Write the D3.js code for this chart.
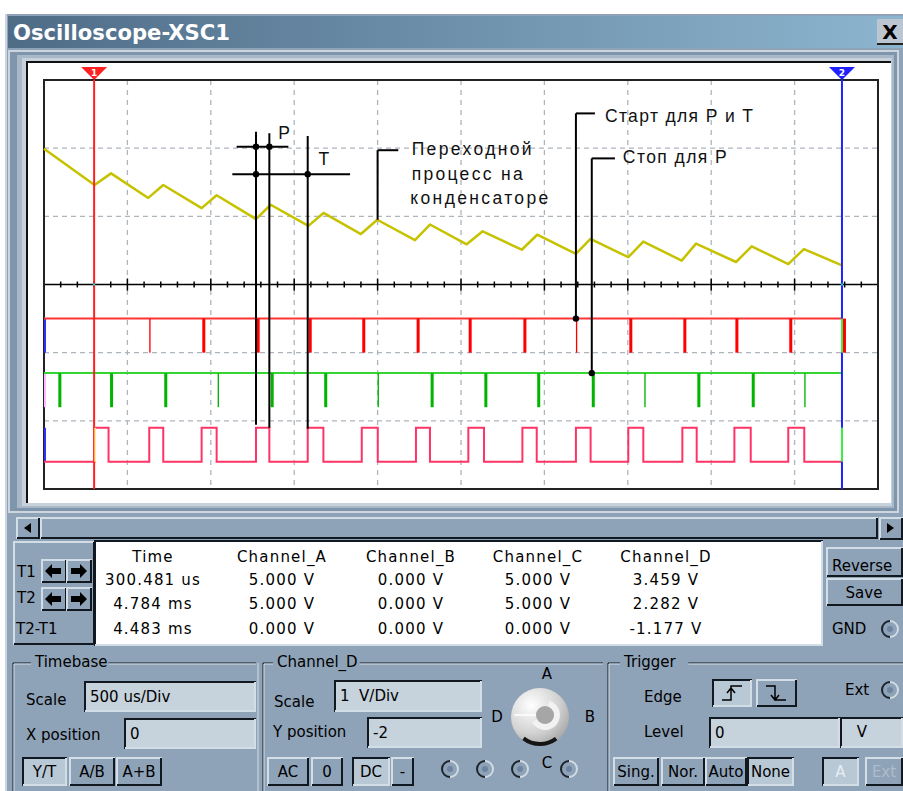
<!DOCTYPE html>
<html>
<head>
<meta charset="utf-8">
<script src="https://cdn.jsdelivr.net/npm/d3@7"></script>
<style>
  body { margin: 0; background: #fff; }
  svg text { font-family: "DejaVu Sans", sans-serif; font-size: 15px; white-space: pre; }
</style>
</head>
<body>
<svg id="scope" width="903" height="791"></svg>
<script>
// ---- data (time in ms, volts) ----
// channel D: capacitor voltage (sawtooth)
const capTime = [0, 0.303, 0.402, 0.625, 0.715, 0.945, 1.035, 1.271, 1.359, 1.585, 1.676, 1.900, 1.998, 2.224, 2.314,
  2.534, 2.630, 2.864, 2.957, 3.189, 3.276, 3.503, 3.593, 3.823, 3.909, 4.149, 4.243, 4.462, 4.556, 4.784];
const capVolt = [3.99, 3.46, 3.63, 3.27, 3.46, 3.12, 3.31, 2.96, 3.17, 2.86, 3.05, 2.74, 2.95, 2.65, 2.88,
  2.59, 2.78, 2.51, 2.73, 2.45, 2.67, 2.40, 2.63, 2.35, 2.60, 2.33, 2.56, 2.30, 2.52, 2.28];

// channel C: gate square wave (0 V / 5 V)
const gateOn  = [0.303, 0.631, 0.945, 1.271, 1.581, 1.905, 2.230, 2.544, 2.868, 3.189, 3.503, 3.827, 4.139, 4.462];
const gateOff = [0.387, 0.715, 1.035, 1.351, 1.675, 2.001, 2.314, 2.638, 2.954, 3.277, 3.593, 3.913, 4.237, 4.558];

// channel A: start pulses (5 V -> 0 V), width in us
const startPulse = [0.631, 0.949, 1.275, 1.587, 1.908, 2.234, 2.546, 2.874, 3.189, 3.509, 3.833, 4.145, 4.468, 4.790];
const startWidth = [8, 18, 18, 18, 18, 18, 18, 18, 8, 18, 18, 18, 18, 18];

// channel B: stop pulses (0 V -> -5 V), width in us
const stopPulse = [0.086, 0.396, 0.721, 1.041, 1.359, 1.680, 2.000, 2.318, 2.640, 2.957, 3.284, 3.599, 3.917, 4.243, 4.558];
const stopWidth = [18, 18, 18, 8, 18, 18, 8, 18, 18, 18, 18, 8, 18, 18, 8];

const simEnd = 4.790;
const cursorT = [0.3005, 4.784];

// channel settings
const voltsPerDiv = [10, 10, 10, 1];
const yPosition = [-1, -1.3, -2.6, -2];

// readout table
const readHeaders = ['Time', 'Channel_A', 'Channel_B', 'Channel_C', 'Channel_D'];
const rowLabels = ['T1', 'T2', 'T2-T1'];
const timeText = ['300.481 us', '4.784 ms', '4.483 ms'];
const chA = [5, 5, 0];
const chB = [0, 0, 0];
const chC = [5, 5, 0];
const chD = [3.459, 2.282, -1.177];

// ---- drawing ----
const svg = d3.select('#scope');
const panel = '#8fa3b8', light = '#d3dde6', dark = '#111820', field = '#c6d2dc';

const defs = svg.append('defs');
const tg = defs.append('linearGradient').attr('id', 'titleGrad');
tg.append('stop').attr('offset', '0%').attr('stop-color', '#4f6c87');
tg.append('stop').attr('offset', '100%').attr('stop-color', '#8db5cf');
const kg = defs.append('radialGradient').attr('id', 'knobGrad').attr('cx', '35%').attr('cy', '30%').attr('r', '80%');
kg.append('stop').attr('offset', '0%').attr('stop-color', '#ffffff');
kg.append('stop').attr('offset', '60%').attr('stop-color', '#d2d2d2');
kg.append('stop').attr('offset', '100%').attr('stop-color', '#a0a0a0');

svg.append('rect').attr('x', 5).attr('y', 14).attr('width', 898).attr('height', 777).attr('fill', panel);
svg.append('rect').attr('x', 5).attr('y', 14).attr('width', 2).attr('height', 777).attr('fill', '#c9d4de');

// title bar
svg.append('rect').attr('x', 8).attr('y', 16).attr('width', 895).attr('height', 32).attr('fill', 'url(#titleGrad)');
svg.append('text').attr('x', 13).attr('y', 40).text('Oscilloscope-XSC1')
  .attr('fill', '#fff').style('font-family', '"DejaVu Sans Condensed","Liberation Sans Narrow",sans-serif')
  .style('font-size', '22px').style('font-weight', 'bold')
  .attr('textLength', 217).attr('lengthAdjust', 'spacingAndGlyphs');
svg.append('rect').attr('x', 877).attr('y', 19).attr('width', 26).attr('height', 25).attr('fill', '#bcc6d0');
svg.append('rect').attr('x', 877).attr('y', 43).attr('width', 26).attr('height', 2).attr('fill', '#222');
svg.append('text').attr('x', 890).attr('y', 39).attr('text-anchor', 'middle').text('X')
  .style('font-size', '20px').style('font-weight', 'bold').attr('fill', '#000');

// screen frame
[[8, 50, 891, 463, '#cdd6df'], [10, 52, 887, 459, '#7f95ab'], [17, 55, 877, 453, '#a9b8c7'],
 [22, 58, 870, 448, '#c6d1db'], [26, 61, 865, 442, '#111'], [28, 63, 863, 440, '#fff']]
  .forEach(r => svg.append('rect').attr('x', r[0]).attr('y', r[1]).attr('width', r[2]).attr('height', r[3]).attr('fill', r[4]));

// scales: ms across, divisions up
const x = d3.scaleLinear().domain([0, 5]).range([44, 878]);
const y = d3.scaleLinear().domain([-3, 3]).range([489, 80]);
const yv = (ch, v) => y(v / voltsPerDiv[ch] + yPosition[ch]);

const plot = svg.append('g');
plot.append('rect').attr('x', x(0)).attr('y', y(3)).attr('width', x(5) - x(0)).attr('height', y(-3) - y(3))
  .attr('fill', '#fff');

// grid
const gridX = d3.range(1, 10).map(i => i * 0.5);
plot.selectAll('.vgrid').data(gridX).enter().append('line')
  .attr('x1', d => x(d)).attr('x2', d => x(d)).attr('y1', y(3)).attr('y2', y(-3))
  .attr('stroke', '#adb5bd').attr('stroke-width', 1.3).attr('stroke-dasharray', '5,5');
plot.selectAll('.hgrid').data([-2, -1, 1, 2]).enter().append('line')
  .attr('x1', x(0)).attr('x2', x(5)).attr('y1', d => y(d)).attr('y2', d => y(d))
  .attr('stroke', '#adb5bd').attr('stroke-width', 1.3).attr('stroke-dasharray', '5,4');

// centre axis with ticks
plot.append('line').attr('x1', x(0)).attr('x2', x(5)).attr('y1', y(0)).attr('y2', y(0))
  .attr('stroke', '#000').attr('stroke-width', 1.5);
plot.selectAll('.tick').data(x.ticks(50)).enter().append('line')
  .attr('x1', d => x(d)).attr('x2', d => x(d))
  .attr('y1', (d, i) => y(0) - (i % 5 === 0 ? 6 : 3)).attr('y2', (d, i) => y(0) + (i % 5 === 0 ? 6 : 3))
  .attr('stroke', '#000').attr('stroke-width', 1.5);

plot.append('rect').attr('x', x(0)).attr('y', y(3)).attr('width', x(5) - x(0)).attr('height', y(-3) - y(3))
  .attr('fill', 'none').attr('stroke', '#222').attr('stroke-width', 2);

// channel markers on the left border
plot.append('line').attr('x1', x(0) + 1).attr('x2', x(0) + 1).attr('y1', yv(0, 5)).attr('y2', yv(0, 0)).attr('stroke', '#3030ff').attr('stroke-width', 2);
plot.append('line').attr('x1', x(0) + 1).attr('x2', x(0) + 1).attr('y1', yv(1, 0)).attr('y2', yv(1, -5)).attr('stroke', '#ffb8ff').attr('stroke-width', 2);
plot.append('line').attr('x1', x(0) + 1).attr('x2', x(0) + 1).attr('y1', yv(2, 5)).attr('y2', yv(2, 0)).attr('stroke', '#3030ff').attr('stroke-width', 2);

// channel A: start pulses
plot.append('line').attr('x1', x(0)).attr('x2', x(simEnd)).attr('y1', yv(0, 5)).attr('y2', yv(0, 5))
  .attr('stroke', '#ff3434').attr('stroke-width', 2);
plot.selectAll('.pa').data(startPulse).enter().append('rect')
  .attr('x', d => x(d)).attr('width', (d, i) => x(d + startWidth[i] / 1000) - x(d))
  .attr('y', yv(0, 5)).attr('height', yv(0, 0) - yv(0, 5)).attr('fill', '#ff0000');

// channel B: stop pulses
plot.append('line').attr('x1', x(0)).attr('x2', x(simEnd)).attr('y1', yv(1, 0)).attr('y2', yv(1, 0))
  .attr('stroke', '#33d633').attr('stroke-width', 2);
plot.selectAll('.pb').data(stopPulse).enter().append('rect')
  .attr('x', d => x(d)).attr('width', (d, i) => x(d + stopWidth[i] / 1000) - x(d))
  .attr('y', yv(1, 0)).attr('height', yv(1, -5) - yv(1, 0)).attr('fill', '#00b400');

// channel C: gate square wave
const gatePts = [[0, 0]];
gateOn.forEach((t, i) => gatePts.push([t, 0], [t, 5], [gateOff[i], 5], [gateOff[i], 0]));
gatePts.push([simEnd, 0]);
plot.append('path').datum(gatePts)
  .attr('d', d3.line().x(d => x(d[0])).y(d => yv(2, d[1])))
  .attr('fill', 'none').attr('stroke', '#ff3466').attr('stroke-width', 2);

// channel D: capacitor voltage
plot.append('path').datum(capVolt)
  .attr('d', d3.line().x((d, i) => x(capTime[i])).y(d => yv(3, d)))
  .attr('fill', 'none').attr('stroke', '#c6c200').attr('stroke-width', 2.5).attr('stroke-linejoin', 'round');

// cursors
const curColor = ['#ff2020', '#2020ff'];
cursorT.forEach((t, i) => {
  const cx = x(t);
  plot.append('line').attr('x1', cx).attr('x2', cx).attr('y1', y(3)).attr('y2', y(-3))
    .attr('stroke', curColor[i]).attr('stroke-width', 2);
  plot.append('path').attr('d', `M${cx - 13},${y(3) - 13}H${cx + 13}L${cx},${y(3)}Z`).attr('fill', curColor[i]);
  plot.append('text').attr('x', cx).attr('y', y(3) - 4).attr('text-anchor', 'middle').text(i + 1)
    .attr('fill', '#fff').style('font-size', '9px').style('font-weight', 'bold');
  plot.append('rect').attr('x', cx - 1).attr('y', y(0) - 1).attr('width', 2).attr('height', 2).attr('fill', '#00e0e0');
});
// trace ends drawn over the T2 cursor
plot.append('line').attr('x1', x(cursorT[1])).attr('x2', x(cursorT[1])).attr('y1', yv(0, 5)).attr('y2', yv(0, 0)).attr('stroke', '#40f040').attr('stroke-width', 2);
plot.append('line').attr('x1', x(cursorT[1])).attr('x2', x(cursorT[1])).attr('y1', yv(2, 5)).attr('y2', yv(2, 0)).attr('stroke', '#40f040').attr('stroke-width', 2);
plot.append('line').attr('x1', x(cursorT[0]) + 1).attr('x2', x(cursorT[0]) + 1).attr('y1', yv(2, 5)).attr('y2', yv(2, 0)).attr('stroke', '#ffff90').attr('stroke-width', 1.5);

// ---- annotations (black lines drawn on the screen) ----
const ann = svg.append('g').attr('stroke', '#000').attr('stroke-width', 2);
const dot = (t, d) => svg.append('circle').attr('cx', x(t)).attr('cy', y(d)).attr('r', 3.2).attr('fill', '#000');
const vline = (t, d1, y2) => ann.append('line').attr('x1', x(t)).attr('x2', x(t)).attr('y1', y(d1)).attr('y2', y2);
const hline = (t1, t2, d) => ann.append('line').attr('x1', x(t1)).attr('x2', x(t2)).attr('y1', y(d)).attr('y2', y(d));
const label = (t, d, s, len) => svg.append('text').attr('x', x(t)).attr('y', y(d)).text(s)
  .style('font-family', '"Liberation Sans",Arial,sans-serif').style('font-size', '17.5px').attr('fill', '#111')
  .attr('textLength', len);

vline(gateOn[3], 2.24, yv(2, 5) - 3);
vline(gateOff[3], 2.22, yv(2, 5));
vline(gateOn[4], 2.18, yv(2, 5) + 1);
hline(1.155, 1.465, 2.02);
hline(1.129, 1.835, 1.617);
dot(gateOn[3], 2.02); dot(gateOff[3], 2.02);
dot(gateOn[3], 1.617); dot(gateOn[4], 1.617);
label(1.405, 2.13, 'P', 11);
label(1.645, 1.75, 'T', 11);

vline(2.0, 1.97, yv(3, 2.95));
hline(2.0, 2.124, 1.97);
label(2.204, 1.9, 'Переходной', 120);
label(2.204, 1.535, 'процесс на', 111);
label(2.196, 1.18, 'конденсаторе', 138);

vline(3.189, 2.51, yv(0, 5));
hline(3.189, 3.303, 2.51);
svg.append('circle').attr('cx', x(3.189)).attr('cy', yv(0, 5)).attr('r', 3.2).attr('fill', '#000');
label(3.363, 2.39, 'Старт для Р и Т', 148);

vline(3.284, 1.85, yv(1, 0));
hline(3.284, 3.423, 1.85);
svg.append('circle').attr('cx', x(3.284)).attr('cy', yv(1, 0)).attr('r', 3.2).attr('fill', '#000');
label(3.47, 1.78, 'Стоп для Р', 104);

// ---- widgets ----
function bevel(x0, y0, w, h, sunken, fill) {
  svg.append('rect').attr('x', x0).attr('y', y0).attr('width', w).attr('height', h).attr('fill', fill || panel);
  svg.append('path').attr('d', `M${x0 + 1},${y0 + h}V${y0 + 1}H${x0 + w}`)
    .attr('fill', 'none').attr('stroke', sunken ? dark : light).attr('stroke-width', 2);
  svg.append('path').attr('d', `M${x0 + 1},${y0 + h - 1}H${x0 + w - 1}V${y0 + 1}`)
    .attr('fill', 'none').attr('stroke', sunken ? light : dark).attr('stroke-width', 2);
}
function txt(x0, y0, s, anchor, color) {
  return svg.append('text').attr('x', x0).attr('y', y0).text(s)
    .attr('text-anchor', anchor || 'start').attr('fill', color || '#000');
}
function button(x0, y0, w, h, s, pressed, color) {
  bevel(x0, y0, w, h, pressed, pressed ? '#b9c8d5' : panel);
  txt(x0 + w / 2, y0 + h / 2 + 5, s, 'middle', color);
}
function input(x0, y0, w, h, s) {
  bevel(x0, y0, w, h, true, field);
  txt(x0 + 6, y0 + h / 2 + 5, s);
}
function radio(cx, cy) {
  svg.append('path').attr('d', d3.arc()({ innerRadius: 7, outerRadius: 9, startAngle: Math.PI, endAngle: 2 * Math.PI }))
    .attr('transform', `translate(${cx},${cy})`).attr('fill', '#1c242c');
  svg.append('path').attr('d', d3.arc()({ innerRadius: 7, outerRadius: 9, startAngle: 0, endAngle: Math.PI }))
    .attr('transform', `translate(${cx},${cy})`).attr('fill', '#d0dbe4');
  svg.append('circle').attr('cx', cx).attr('cy', cy).attr('r', 3).attr('fill', '#6e84a0');
}
function group(x0, x1, label, lx) {
  [[dark, 0], [light, 1]].forEach(([c, o]) => {
    svg.append('path').attr('d', `M${x0 + o},791V${663 + o}H${lx - 4}M${lx + label.length * 9.2},${663 + o}H${x1}`)
      .attr('fill', 'none').attr('stroke', c).attr('stroke-width', 1);
  });
  txt(lx, 667, label);
}

// scrollbar
bevel(16, 517, 24, 22, false);
svg.append('path').attr('d', 'M24,528L31,523V533Z').attr('fill', '#000');
bevel(40, 517, 838, 22, false);
bevel(879, 517, 24, 23, false);
svg.append('path').attr('d', 'M894,528L887,523V533Z').attr('fill', '#000');

// readout
bevel(13, 541, 82, 104, false);
bevel(94, 540, 729, 106, true, '#fff');
bevel(826, 547, 77, 30, false);
txt(832, 571, 'Reverse');
bevel(826, 578, 77, 28, false);
txt(864, 598, 'Save', 'middle');
txt(832, 634, 'GND');
radio(890, 629);

const arrowL = (cx, cy) => `M${cx - 8},${cy}l7,-7v4h9v6h-9v4z`;
const arrowR = (cx, cy) => `M${cx + 8},${cy}l-7,-7v4h-9v6h9v4z`;
[559, 587].forEach(by => {
  bevel(41, by, 26, 24, false);
  bevel(66, by, 26, 24, false);
  svg.append('path').attr('d', arrowL(53, by + 12)).attr('fill', '#000');
  svg.append('path').attr('d', arrowR(79, by + 12)).attr('fill', '#000');
});
txt(17, 577, rowLabels[0]);
txt(17, 603, rowLabels[1]);
txt(16, 634, rowLabels[2]);

const colX = [153, 282, 411, 538, 666];
const rowY = [585, 609, 634];
const volt = v => v.toFixed(3) + ' V';
readHeaders.forEach((h, j) => txt(colX[j], 562, h, 'middle').style('letter-spacing', '1.2px'));
timeText.forEach((s, i) => {
  txt(colX[0], rowY[i], s, 'middle').style('letter-spacing', '1.2px');
  [chA, chB, chC, chD].forEach((arr, j) => txt(colX[j + 1], rowY[i], volt(arr[i]), 'middle').style('letter-spacing', '1.2px'));
});

// timebase group
group(13, 256, 'Timebase', 35);
svg.append('line').attr('x1', 258).attr('x2', 258).attr('y1', 663).attr('y2', 791).attr('stroke', light);
txt(26, 705, 'Scale');
input(84, 681, 172, 31, '500 us/Div');
txt(26, 740, 'X position');
input(124, 718, 132, 31, '0');
button(22, 757, 45, 29, 'Y/T', true);
button(69, 757, 46, 29, 'A/B', false);
button(116, 757, 46, 29, 'A+B', false);

// channel D group
group(263, 603, 'Channel_D', 277);
txt(274, 707, 'Scale');
input(334, 680, 148, 32, '1  V/Div');
txt(273, 737, 'Y position');
input(367, 717, 115, 31, '-2');
button(267, 757, 42, 29, 'AC', false);
button(311, 757, 32, 29, '0', false);
button(352, 757, 38, 29, 'DC', true);
button(391, 757, 23, 29, '-', false);
[450, 485, 520, 569].forEach(cx => radio(cx, 769));

// input selector knob
svg.append('circle').attr('cx', 540).attr('cy', 717).attr('r', 29).attr('fill', 'url(#knobGrad)');
svg.append('path').attr('d', d3.arc()({ innerRadius: 25, outerRadius: 29, startAngle: 2.5, endAngle: 3.8 }))
  .attr('transform', 'translate(540,717)').attr('fill', '#151515');
svg.append('path').attr('d', d3.arc()({ innerRadius: 9, outerRadius: 15, startAngle: 0.3, endAngle: 4.2 }))
  .attr('transform', 'translate(545,715)').attr('fill', '#f2f2f2');
svg.append('circle').attr('cx', 545).attr('cy', 715).attr('r', 9).attr('fill', '#a6a6a6');
svg.append('line').attr('x1', 514).attr('x2', 536).attr('y1', 715).attr('y2', 715).attr('stroke', '#fff').attr('stroke-width', 1.5);
txt(547, 679, 'A', 'middle');
txt(590, 722, 'B', 'middle');
txt(547, 768, 'C', 'middle');
txt(497, 722, 'D', 'middle');

// trigger group
group(608, 903, 'Trigger', 624);
txt(644, 702, 'Edge');
bevel(712, 679, 40, 28, true, '#b9c8d5');
svg.append('path').attr('d', 'M722,700H731V686H742M727,693L731,688L735,693').attr('fill', 'none').attr('stroke', '#000').attr('stroke-width', 1.5);
bevel(756, 679, 41, 28, false);
svg.append('path').attr('d', 'M766,686H775V700H786M771,695L775,700L779,695').attr('fill', 'none').attr('stroke', '#000').attr('stroke-width', 1.5);
txt(845, 695, 'Ext');
radio(890, 690);
txt(644, 737, 'Level');
input(709, 717, 131, 31, '0');
bevel(840, 717, 63, 31, true, field);
txt(862, 737, 'V', 'middle');
button(613, 757, 46, 29, 'Sing.', false);
button(661, 757, 44, 29, 'Nor.', false);
button(705, 757, 42, 29, 'Auto', false);
button(747, 757, 47, 29, 'None', true);
button(822, 757, 37, 29, 'A', true, '#e6edf3');
button(865, 757, 38, 29, 'Ext', false, '#aebccb');
</script>
</body>
</html>
